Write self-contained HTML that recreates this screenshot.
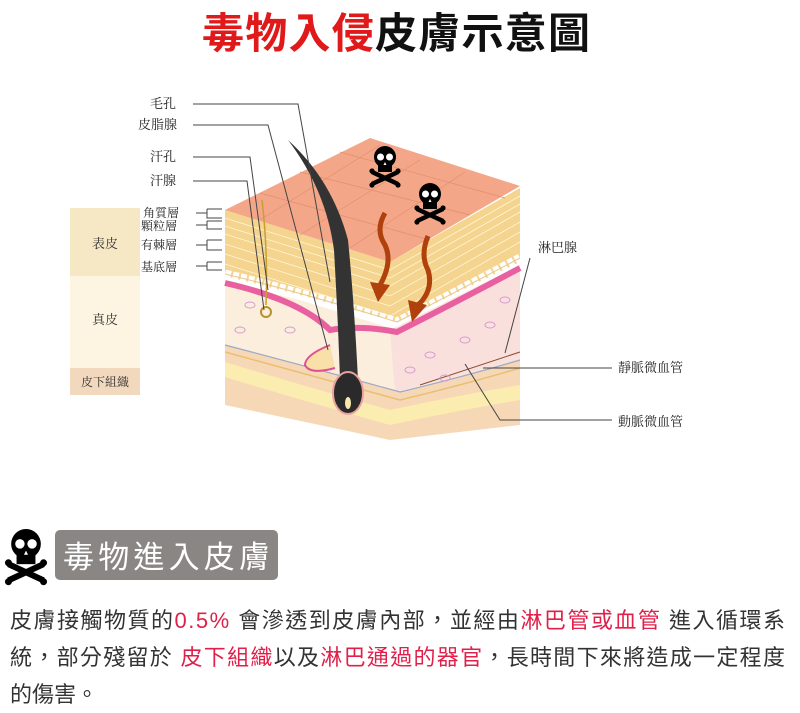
<!DOCTYPE html>
<html><head><meta charset="utf-8"><style>
html,body{margin:0;padding:0;background:#fff;width:800px;height:713px;overflow:hidden}
svg{display:block}
.t{font-family:"Liberation Sans","Noto Sans CJK TC",sans-serif}
.s{font-family:"Liberation Serif","Noto Serif CJK SC",serif}
</style></head><body>
<svg width="800" height="713" viewBox="0 0 800 713" xmlns="http://www.w3.org/2000/svg">
<defs>
<g id="skull">
<circle cx="0" cy="-6" r="11" fill="#000"/>
<rect x="-7" y="0" width="14" height="9" fill="#000"/>
<circle cx="-4.5" cy="-6" r="3.5" fill="#fff"/><circle cx="4.5" cy="-6" r="3.5" fill="#fff"/>
<path d="M0 -1 l-1.5 3 h3z" fill="#fff"/>
<path d="M-13 9 L13 21 M13 9 L-13 21" stroke="#000" stroke-width="4.5"/>
<circle cx="-13" cy="8" r="2.6" fill="#000"/><circle cx="13" cy="8" r="2.6" fill="#000"/>
<circle cx="-13" cy="22" r="2.6" fill="#000"/><circle cx="13" cy="22" r="2.6" fill="#000"/>
</g>
</defs>
<text x="202" y="48" class="t" font-size="42" font-weight="bold" fill="#e01a1a" textLength="388">毒物入侵<tspan fill="#111">皮膚示意圖</tspan></text>

<rect x="70" y="208" width="70" height="68" fill="#f6e8c4"/>
<rect x="70" y="276" width="70" height="92" fill="#fdf5e2"/>
<rect x="70" y="368" width="70" height="27" fill="#f2d9bd"/>
<text x="105" y="248" class="s" font-size="13" text-anchor="middle" fill="#333">表皮</text>
<text x="105" y="324" class="s" font-size="13" text-anchor="middle" fill="#333">真皮</text>
<text x="105" y="386" class="s" font-size="12" text-anchor="middle" fill="#333">皮下組織</text>

<polygon points="225,340 390,385 520,350 520,425 390,440 225,405" fill="#f6d8b6"/>
<path d="M225 362 Q300 385 390 410 Q460 395 520 385 L520 400 Q460 410 390 425 Q300 400 225 377Z" fill="#fbedb0"/>
<polygon points="225,282 300,300 397,330 520,265 520,360 400,392 225,345" fill="#fbeedd"/>
<polygon points="390,330 520,265 520,360 395,392" fill="#fae0dc"/>
<path d="M225 345 Q320 370 400 392 Q470 375 520 360" fill="none" stroke="#9aaac8" stroke-width="1.2"/>
<path d="M225 352 Q320 378 400 400 Q470 383 520 368" fill="none" stroke="#e8c070" stroke-width="1.5"/>
<path d="M420 385 Q460 372 520 352" fill="none" stroke="#8a4a30" stroke-width="1"/>
<g fill="none" stroke="#d79bd0" stroke-width="1">
<ellipse cx="250" cy="305" rx="5" ry="3"/><ellipse cx="290" cy="330" rx="5" ry="3"/><ellipse cx="240" cy="330" rx="5" ry="3"/>
<ellipse cx="430" cy="355" rx="5" ry="3"/><ellipse cx="465" cy="340" rx="5" ry="3"/><ellipse cx="490" cy="325" rx="5" ry="3"/>
<ellipse cx="445" cy="378" rx="5" ry="3"/><ellipse cx="505" cy="300" rx="5" ry="3"/><ellipse cx="410" cy="370" rx="5" ry="3"/>
</g>
<polygon points="225,210 390,262 520,188 520,262 397,322 300,295 225,276" fill="#f4d48e"/>
<g stroke="#fff6d8" stroke-width="0.8" fill="none">
<path d="M225 218 L390 270 L520 196"/><path d="M225 226 L390 278 L520 204"/><path d="M225 234 L390 286 L520 212"/>
<path d="M225 244 L390 296 L520 222"/><path d="M225 254 L390 306 L520 232"/><path d="M225 264 L390 316 L520 242"/>
</g>
<path d="M225 274 Q300 292 397 322 Q460 290 520 258" fill="none" stroke="#fff" stroke-width="9" stroke-dasharray="6 2"/>
<path d="M225 274 Q300 292 397 322 Q460 290 520 258" fill="none" stroke="#e8c790" stroke-width="1"/>
<path d="M225 283 Q300 300 330 330 Q360 325 397 332 Q460 300 520 268" fill="none" stroke="#e8609f" stroke-width="6"/>
<polygon points="225,210 370,138 520,186 390,262" fill="#f3a788"/>
<g stroke="#e48d70" stroke-width="0.7" fill="none">
<path d="M260 193 L430 240"/><path d="M300 172 L470 215"/><path d="M340 152 L505 198"/>
<path d="M300 235 L420 160"/><path d="M350 248 L465 172"/><path d="M260 220 L380 145"/>
</g>
<path d="M262 200 Q268 250 266 305" fill="none" stroke="#c9a030" stroke-width="1.5"/>
<circle cx="266" cy="312" r="5" fill="none" stroke="#b89030" stroke-width="2"/>
<path d="M330 345 Q305 355 305 365 Q310 375 335 368" fill="#f8e0a8" stroke="#e05090" stroke-width="2"/>
<path d="M288 140 Q326 190 334 250 Q338 320 340 380 L358 380 Q354 300 348 240 Q332 180 288 140Z" fill="#333"/>
<ellipse cx="348" cy="393" rx="15" ry="21" fill="#2a2a2a" stroke="#e8a0a0" stroke-width="2"/>
<ellipse cx="348" cy="403" rx="3" ry="6" fill="#f8e8b0"/>
<use href="#skull" transform="translate(385,163)"/>
<use href="#skull" transform="translate(430,200)"/>
<path d="M385 213 Q375 230 385 245 Q393 262 380 285" fill="none" stroke="#b0400c" stroke-width="5"/>
<polygon points="370,282 390,285 378,302" fill="#b0400c"/>
<path d="M428 236 Q420 255 428 270 Q434 290 418 305" fill="none" stroke="#b0400c" stroke-width="5"/>
<polygon points="408,300 427,305 412,322" fill="#b0400c"/>

<g stroke="#444" stroke-width="1" fill="none">
<path d="M193 104 H298 L330 282"/>
<path d="M193 125 H268 L328 350"/>
<path d="M193 157 H250 L268 290"/>
<path d="M193 181 H247 L264 310"/>
<path d="M196 213 H207 M196 225 H207 M196 245 H207 M196 266 H207"/>
<path d="M207 209 V218 H222 M207 209 H222 M207 221 V229 H222 M207 221 H222 M207 240 V250 H222 M207 240 H222 M207 262 V270 H222 M207 262 H222"/>
<path d="M530 258 L505 353"/>
<path d="M483 368 H612"/>
<path d="M465 364 L500 420 H612"/>
</g>
<g class="s" font-size="13" fill="#222">
<text x="150" y="108">毛孔</text>
<text x="138" y="129">皮脂腺</text>
<text x="150" y="161">汗孔</text>
<text x="150" y="185">汗腺</text>
<text x="143" y="217" font-size="12">角質層</text>
<text x="141" y="230" font-size="12">顆粒層</text>
<text x="141" y="249" font-size="12">有棘層</text>
<text x="141" y="271" font-size="12">基底層</text>
<text x="538" y="252">淋巴腺</text>
<text x="618" y="372">靜脈微血管</text>
<text x="618" y="426">動脈微血管</text>
</g>

<g transform="translate(26,552) scale(1.35)"><use href="#skull"/></g>
<rect x="55" y="530" width="223" height="50" rx="5" fill="#8a8684"/>
<text x="63" y="568" class="t" font-size="31" fill="#fff" textLength="207">毒物進入皮膚</text>
<g class="t" font-size="22" fill="#333">
<text x="10" y="628" textLength="775">皮膚接觸物質的<tspan fill="#e0204a">0.5%</tspan> 會滲透到皮膚內部，並經由<tspan fill="#e0204a">淋巴管或血管</tspan> 進入循環系</text>
<text x="10" y="665" textLength="775">統，部分殘留於 <tspan fill="#e0204a">皮下組織</tspan>以及<tspan fill="#e0204a">淋巴通過的器官</tspan>，長時間下來將造成一定程度</text>
<text x="10" y="702">的傷害。</text>
</g>
</svg>
</body></html>
